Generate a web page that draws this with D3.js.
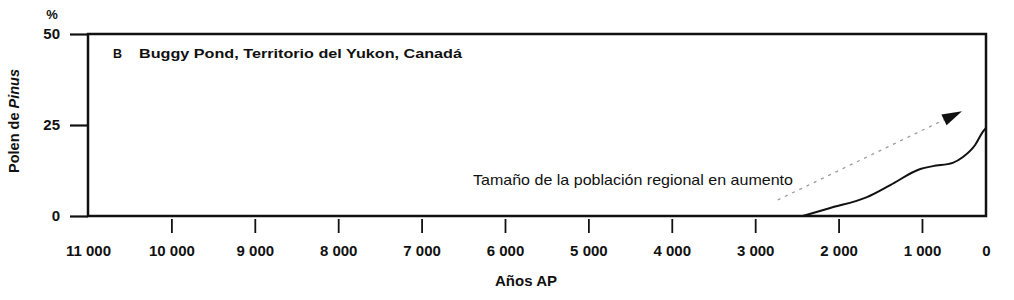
<!DOCTYPE html>
<html>
<head>
<meta charset="utf-8">
<script src="https://cdn.jsdelivr.net/npm/d3@7"></script>
<style>
  html, body { margin: 0; padding: 0; background: #fff; }
  svg { display: block; font-family: "Liberation Sans", Arial, sans-serif; }
  text { fill: #111; }
</style>
</head>
<body>
<svg id="chart" width="1014" height="300"></svg>
<script>
// ---- data ----
const years = [2430, 2100, 1660, 1380, 1020, 830, 520, 360, 170, 50, 0];
const pinus = [0, 2.2, 5.2, 8.5, 12.9, 13.7, 14.6, 16.2, 19.5, 23.1, 24.2];
const xTicks = [11000, 10000, 9000, 8000, 7000, 6000, 5000, 4000, 3000, 2000, 1000, 0];
const xTickLabels = ["11 000", "10 000", "9 000", "8 000", "7 000", "6 000", "5 000", "4 000", "3 000", "2 000", "1 000", "0"];
const yTicks = [0, 25, 50];
const yTickLabels = ["0", "25", "50"];
// annotation arrow (years, %)
const arrowFrom = [2730, 4.4];
const arrowTo = [375, 28.8];

// ---- layout ----
const mLeft = 88, mRight = 986, mTop = 34, mBottom = 216;
const svg = d3.select("#chart");

// the printed axis compresses the last 1000-year interval
const x = d3.scaleLinear()
  .domain([11000, 1000, 0])
  .range([mLeft, mLeft + (mRight - mLeft) * 0.9287, mRight]);
const y = d3.scaleLinear().domain([0, 50]).range([mBottom, mTop]);

// Y axis
const yAxis = svg.append("g")
  .attr("transform", `translate(${mLeft},0)`)
  .call(d3.axisLeft(y).tickValues(yTicks).tickSize(18).tickPadding(10)
    .tickFormat((d, i) => yTickLabels[i]));
yAxis.select(".domain").remove();
yAxis.selectAll(".tick line").attr("stroke", "#111").attr("stroke-width", 2.2);
yAxis.selectAll(".tick text")
  .attr("font-size", 15).attr("font-weight", "bold")
  .attr("font-family", "'Liberation Sans', Arial, sans-serif").attr("fill", "#111");

// X axis
const xAxis = svg.append("g")
  .attr("transform", `translate(0,${mBottom + 3})`)
  .call(d3.axisBottom(x).tickValues(xTicks).tickSize(14).tickPadding(12)
    .tickFormat((d, i) => xTickLabels[i]));
xAxis.select(".domain").remove();
xAxis.selectAll(".tick line")
  .attr("stroke", "#111").attr("stroke-width", 1.8)
  .attr("display", d => (d === 11000 || d === 0) ? "none" : null);
xAxis.selectAll(".tick text")
  .attr("font-size", 15).attr("font-weight", "bold")
  .attr("font-family", "'Liberation Sans', Arial, sans-serif").attr("fill", "#111");

// frame
svg.append("rect")
  .attr("x", mLeft).attr("y", mTop)
  .attr("width", mRight - mLeft).attr("height", mBottom - mTop)
  .attr("fill", "none").attr("stroke", "#111").attr("stroke-width", 2.5);

// curve
const line = d3.line()
  .x((d, i) => x(years[i]))
  .y((d, i) => y(pinus[i]))
  .curve(d3.curveMonotoneX);
svg.append("path")
  .datum(pinus)
  .attr("d", line)
  .attr("fill", "none").attr("stroke", "#111").attr("stroke-width", 2);

// dotted arrow
const ax0 = x(arrowFrom[0]), ay0 = y(arrowFrom[1]);
const ax1 = x(arrowTo[0]), ay1 = y(arrowTo[1]);
const dx = ax1 - ax0, dy = ay1 - ay0, len = Math.hypot(dx, dy);
const ux = dx / len, uy = dy / len;
const headLen = 20, headHalf = 6;
const bx = ax1 - ux * headLen, by = ay1 - uy * headLen;
svg.append("line")
  .attr("x1", ax0).attr("y1", ay0).attr("x2", bx).attr("y2", by)
  .attr("stroke", "#999").attr("stroke-width", 1.3).attr("stroke-dasharray", "3,5");
svg.append("path")
  .attr("d", `M${ax1},${ay1}L${bx - uy * headHalf},${by + ux * headHalf}L${bx + uy * headHalf},${by - ux * headHalf}Z`)
  .attr("fill", "#111");

// texts
svg.append("text").attr("x", 113).attr("y", 58)
  .attr("font-size", 12.5).attr("font-weight", "bold").text("B");
svg.append("text").attr("x", 139).attr("y", 58)
  .attr("font-size", 12.5).attr("font-weight", "bold")
  .attr("textLength", 323).attr("lengthAdjust", "spacingAndGlyphs")
  .text("Buggy Pond, Territorio del Yukon, Canadá");

svg.append("text").attr("x", 473).attr("y", 185)
  .attr("font-size", 15)
  .attr("textLength", 320).attr("lengthAdjust", "spacingAndGlyphs")
  .text("Tamaño de la población regional en aumento");

svg.append("text").attr("x", 52).attr("y", 19)
  .attr("text-anchor", "middle").attr("font-size", 13).attr("font-weight", "bold")
  .text("%");

const yt = svg.append("text")
  .attr("transform", "translate(19,121) rotate(-90)")
  .attr("text-anchor", "middle").attr("font-size", 14.5).attr("font-weight", "bold");
yt.append("tspan").text("Polen de ");
yt.append("tspan").attr("font-style", "italic").text("Pinus");

svg.append("text").attr("x", 526).attr("y", 286)
  .attr("text-anchor", "middle").attr("font-size", 15).attr("font-weight", "bold")
  .text("Años AP");
</script>
</body>
</html>
